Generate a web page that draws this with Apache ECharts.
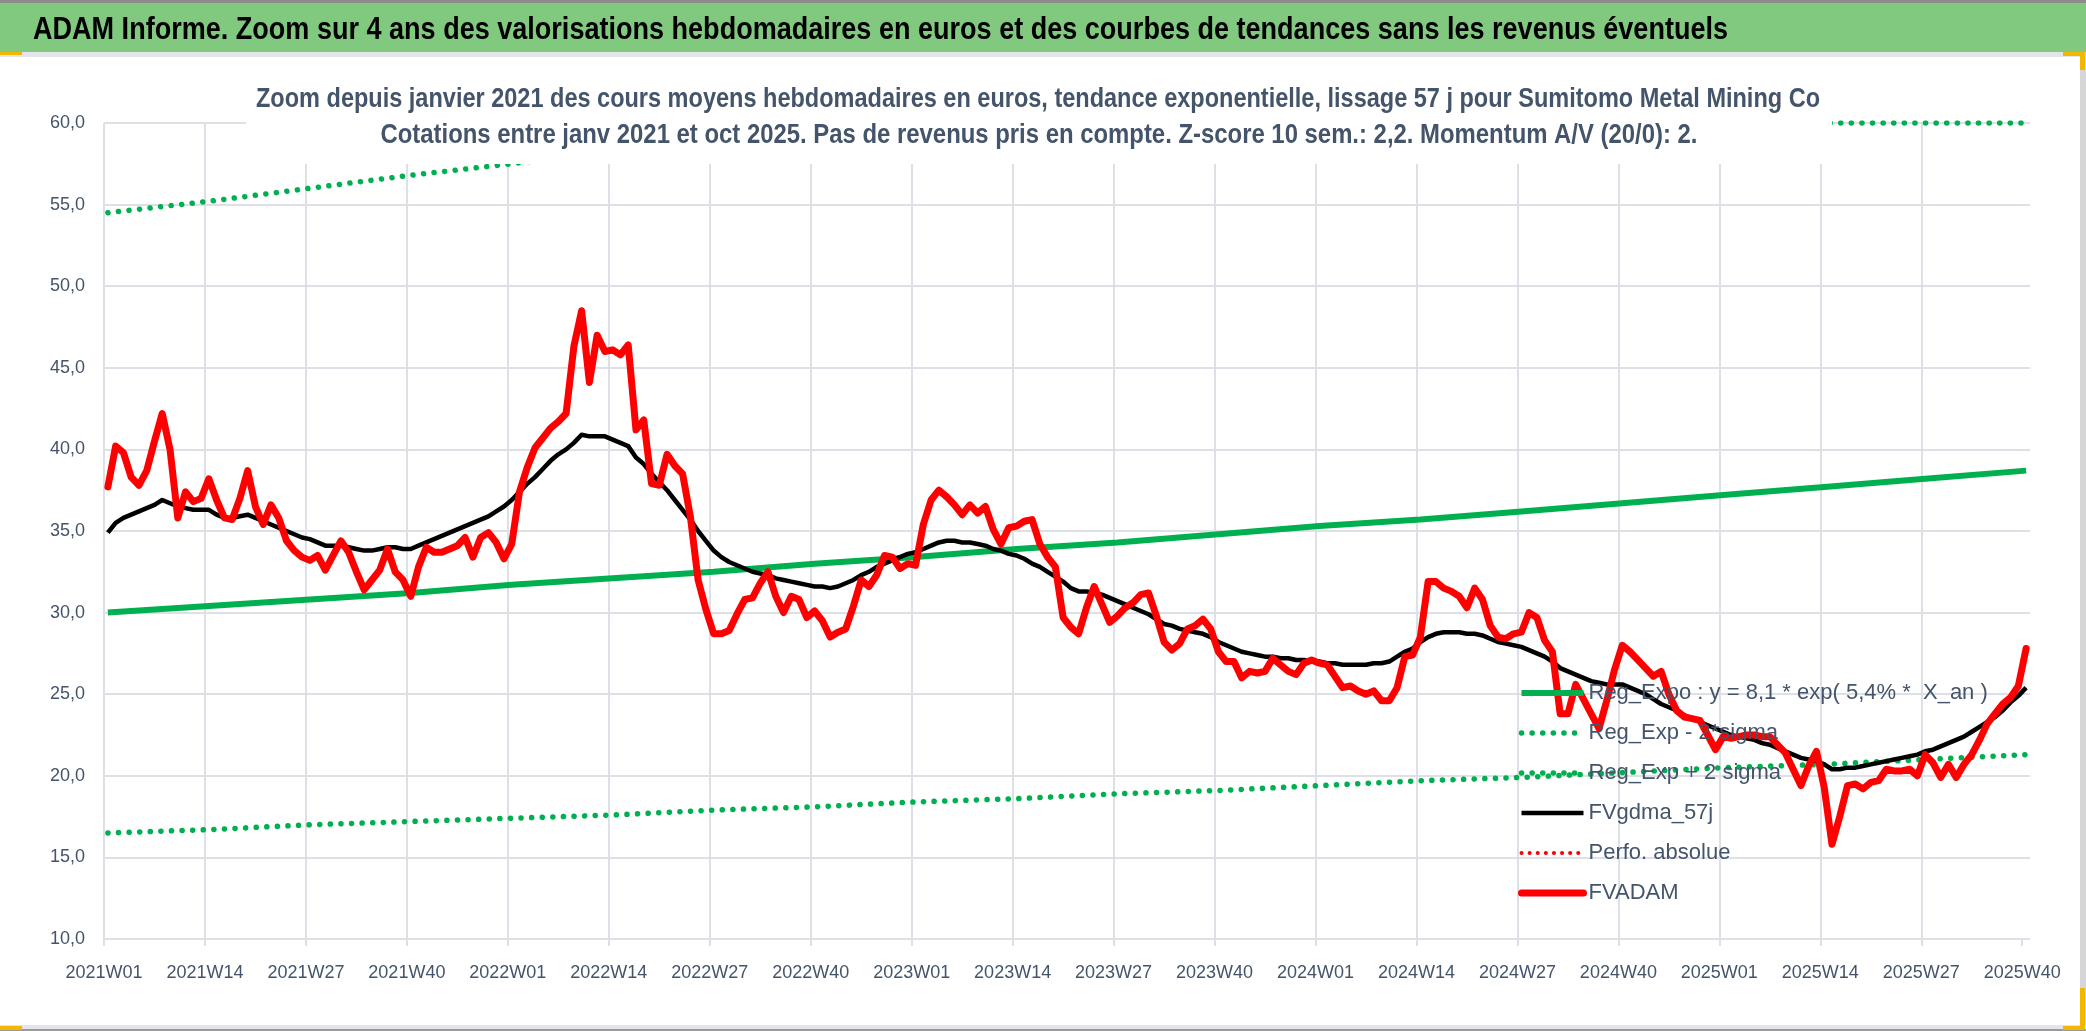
<!DOCTYPE html>
<html>
<head>
    <meta charset="UTF-8" />
    <title>ADAM Informe - Sumitomo Metal Mining Co</title>
    <script type="text/javascript" src="https://cdn.jsdelivr.net/npm/echarts@6/dist/echarts.min.js"></script>
    <style>
        html, body { margin: 0; padding: 0; background: #fff; }
    </style>
</head>
<body>

<div id="main" style="width: 2086px;height: 1031px;"></div>

<script>
    // libelles de l'axe des semaines (un tous les 13 points)
    var tickLabels = ['2021W01', '2021W14', '2021W27', '2021W40', '2022W01', '2022W14', '2022W27', '2022W40',
        '2023W01', '2023W14', '2023W27', '2023W40', '2024W01', '2024W14', '2024W27', '2024W40',
        '2025W01', '2025W14', '2025W27', '2025W40'];
    var tickWeeks = [0, 13, 26, 39, 52, 65, 78, 91, 104, 117, 130, 143, 156, 169, 182, 195, 208, 221, 234, 247];

    // cours moyens hebdomadaires (FVADAM), semaine 0 = 2021W01
    var fvadam = [
        37.7, 40.2, 39.8, 38.3, 37.8, 38.7, 40.5, 42.2, 40.0, 35.8,
        37.4, 36.8, 37.0, 38.2, 36.9, 35.8, 35.7, 37.0, 38.7, 36.5,
        35.4, 36.6, 35.8, 34.4, 33.8, 33.4, 33.2, 33.5, 32.6, 33.5,
        34.4, 33.7, 32.5, 31.4, 32.0, 32.6, 33.9, 32.5, 32.0, 31.0,
        32.8, 34.0, 33.7, 33.7, 33.9, 34.1, 34.6, 33.4, 34.6, 34.9,
        34.3, 33.3, 34.2, 37.4, 38.9, 40.1, 40.7, 41.3, 41.7, 42.2,
        46.3, 48.5, 44.1, 47.0, 46.0, 46.1, 45.8, 46.4, 41.2, 41.8,
        37.9, 37.8, 39.7, 39.0, 38.5, 35.9, 32.0, 30.2, 28.7, 28.7,
        28.9, 29.9, 30.8, 30.9, 31.8, 32.5, 31.0, 30.0, 31.0, 30.8,
        29.7, 30.1, 29.5, 28.5, 28.8, 29.0, 30.4, 32.0, 31.6, 32.3,
        33.5, 33.4, 32.7, 33.0, 32.9, 35.4, 36.9, 37.5, 37.1, 36.6,
        36.0, 36.6, 36.1, 36.5, 35.1, 34.2, 35.2, 35.3, 35.6, 35.7,
        34.2, 33.4, 32.8, 29.7, 29.1, 28.7, 30.3, 31.6, 30.5, 29.4,
        29.8, 30.3, 30.6, 31.1, 31.2, 29.8, 28.2, 27.7, 28.1, 29.0,
        29.2, 29.6, 29.0, 27.6, 27.0, 27.0, 26.0, 26.4, 26.3, 26.4,
        27.2, 26.8, 26.4, 26.2, 26.9, 27.1, 26.9, 26.8, 26.1, 25.4,
        25.5, 25.2, 25.0, 25.2, 24.6, 24.6, 25.4, 27.3, 27.4, 28.5,
        31.9, 31.9, 31.5, 31.3, 31.0, 30.3, 31.5, 30.8, 29.2, 28.5,
        28.4, 28.7, 28.8, 30.0, 29.7, 28.3, 27.6, 23.8, 23.8, 25.6,
        24.7, 23.8, 22.9, 24.6, 26.5, 28.0, 27.6, 27.1, 26.6, 26.1,
        26.4, 25.0, 24.0, 23.6, 23.5, 23.4, 22.5, 21.6, 22.4, 22.3,
        22.4, 22.5, 22.5, 22.4, 22.4, 21.9, 21.4, 20.4, 19.4, 20.6,
        21.5, 19.3, 15.8, 17.5, 19.4, 19.5, 19.2, 19.6, 19.7, 20.4,
        20.3, 20.3, 20.4, 20.0, 21.3, 20.8, 19.9, 20.7, 19.9, 20.7,
        21.3, 22.2, 23.2, 23.8, 24.4, 24.8, 25.5, 27.8
    ];

    // moyenne lissee 57 j (FVgdma_57j)
    var fvgdma57j = [
        34.9, 35.5, 35.8, 36.0, 36.2, 36.4, 36.6, 36.9, 36.7, 36.5,
        36.4, 36.3, 36.3, 36.3, 36.0, 35.8, 35.8, 35.9, 36.0, 35.8,
        35.6, 35.4, 35.2, 35.0, 34.8, 34.6, 34.5, 34.3, 34.1, 34.1,
        34.1, 34.0, 33.9, 33.8, 33.8, 33.9, 34.0, 34.0, 33.9, 33.9,
        34.1, 34.3, 34.5, 34.7, 34.9, 35.1, 35.3, 35.5, 35.7, 35.9,
        36.2, 36.5, 36.9, 37.4, 37.9, 38.3, 38.8, 39.3, 39.7, 40.0,
        40.4, 40.9, 40.8, 40.8, 40.8, 40.6, 40.4, 40.2, 39.5, 39.1,
        38.5, 38.0, 37.5, 36.9, 36.3, 35.7, 35.0, 34.4, 33.8, 33.4,
        33.1, 32.9, 32.7, 32.5, 32.4, 32.3, 32.1, 32.0, 31.9, 31.8,
        31.7, 31.6, 31.6, 31.5, 31.6, 31.8, 32.0, 32.3, 32.5, 32.8,
        33.0, 33.2, 33.4, 33.6, 33.7, 33.9, 34.1, 34.3, 34.4, 34.4,
        34.3, 34.3, 34.2, 34.1, 33.9, 33.8, 33.6, 33.5, 33.3, 33.0,
        32.8, 32.5, 32.2, 31.9, 31.5, 31.3, 31.3, 31.2, 31.1, 30.9,
        30.7, 30.5, 30.3, 30.1, 29.9, 29.6, 29.3, 29.2, 29.0, 28.9,
        28.8, 28.7, 28.5, 28.2, 28.0, 27.8, 27.6, 27.5, 27.4, 27.3,
        27.3, 27.2, 27.2, 27.1, 27.1, 27.0, 27.0, 26.9, 26.9, 26.8,
        26.8, 26.8, 26.8, 26.9, 26.9, 27.0, 27.3, 27.6, 27.8, 28.2,
        28.5, 28.7, 28.8, 28.8, 28.8, 28.7, 28.7, 28.6, 28.4, 28.2,
        28.1, 28.0, 27.9, 27.7, 27.5, 27.3, 27.0, 26.6, 26.4, 26.2,
        26.0, 25.8, 25.7, 25.6, 25.6, 25.6, 25.4, 25.2, 25.0, 24.7,
        24.4, 24.2, 24.0, 23.7, 23.5, 23.3, 23.1, 22.9, 22.7, 22.5,
        22.4, 22.3, 22.2, 22.0, 21.9, 21.7, 21.5, 21.3, 21.1, 21.0,
        20.9, 20.7, 20.4, 20.4, 20.5, 20.5, 20.6, 20.7, 20.8, 20.9,
        21.0, 21.1, 21.2, 21.3, 21.5, 21.6, 21.8, 22.0, 22.2, 22.4,
        22.7, 23.0, 23.3, 23.6, 24.0, 24.5, 24.9, 25.4
    ];

    // regression exponentielle et bandes, lues aux semaines de tickWeeks
    var regExpo = [30.0, 30.4, 30.8, 31.2, 31.7, 32.1, 32.5, 33.0, 33.4, 33.9,
        34.3, 34.8, 35.3, 35.7, 36.2, 36.7, 37.2, 37.7, 38.2, 38.7];
    var regMinus2Sigma = [16.5, 16.7, 17.0, 17.2, 17.4, 17.6, 17.9, 18.1, 18.4, 18.6,
        18.9, 19.1, 19.4, 19.7, 19.9, 20.2, 20.5, 20.7, 21.0, 21.3];
    // bande haute : sort du cadre (bloquee a 60 sur la droite)
    var regPlusWeeks = [0, 13, 26, 39, 52, 65, 78, 91, 93, 247];
    var regPlus2Sigma = [54.5, 55.2, 56.0, 56.8, 57.5, 58.3, 59.1, 59.9, 60.0, 60.0];

    var mainTitle = 'ADAM Informe. Zoom sur 4 ans des valorisations hebdomadaires en euros et des courbes de tendances sans les revenus éventuels';
    var subTitle1 = 'Zoom depuis janvier 2021 des cours moyens hebdomadaires en euros, tendance exponentielle, lissage 57 j pour Sumitomo Metal Mining Co';
    var subTitle2 = 'Cotations entre janv 2021 et oct 2025. Pas de revenus pris en compte. Z-score 10 sem.: 2,2. Momentum A/V (20/0): 2.';

    var FONT = '"Liberation Sans", Arial, sans-serif';
    var TXT = '#44546A';
    var GRID = '#DDE0E6';

    // police etroite (type Calibri) absente : on resserre les titres horizontalement
    var ctx = document.createElement('canvas').getContext('2d');
    function squeeze(text, font, width) {
        ctx.font = font;
        return width / ctx.measureText(text).width;
    }
    var F_MAIN = 'bold 31px ' + FONT;
    var F_SUB = 'bold 28px ' + FONT;

    function pts(weeks, vals) {
        return vals.map(function (v, i) { return [weeks[i] + 0.5, v]; });
    }
    var weekIdx = fvadam.map(function (v, i) { return i; });

    var obj = document.getElementById("main");
    var mychart = echarts.init(obj);

    var option = {
        animation: false,
        backgroundColor: '#fff',
        legend: {
            orient: 'vertical',
            left: 1518,
            top: 680,
            padding: 0,
            itemWidth: 62,
            itemHeight: 20,
            itemGap: 14,
            itemStyle: { opacity: 0 },
            lineStyle: { width: 'inherit' },
            textStyle: { fontFamily: FONT, fontSize: 22, color: TXT, lineHeight: 26 }
        },
        grid: { left: 104, right: 56, top: 123, bottom: 92, containLabel: false },
        xAxis: {
            type: 'value',
            min: 0,
            max: 248,
            interval: 13,
            axisLine: { show: false },
            axisTick: { show: true, length: 7, customValues: tickWeeks, lineStyle: { color: GRID, width: 2 } },
            axisLabel: {
                customValues: tickWeeks,
                showMinLabel: true,
                showMaxLabel: true,
                margin: 25,
                fontFamily: FONT, fontSize: 18, color: TXT,
                formatter: function (v) {
                    return v % 13 === 0 ? tickLabels[v / 13] : '';
                }
            },
            splitLine: { show: true, showMaxLine: false, lineStyle: { color: GRID, width: 2 } }
        },
        yAxis: {
            type: 'value',
            min: 10,
            max: 60,
            interval: 5,
            axisLine: { show: false },
            axisTick: { show: false },
            axisLabel: {
                margin: 19,
                fontFamily: FONT, fontSize: 18, color: TXT,
                formatter: function (v) { return v.toFixed(1).replace('.', ','); }
            },
            splitLine: { lineStyle: { color: GRID, width: 2 } }
        },
        series: [
            {
                name: 'Reg_Expo : y = 8,1 * exp( 5,4% *  X_an )',
                type: 'line', symbol: 'none',
                data: pts(tickWeeks, regExpo),
                lineStyle: { color: '#00B050', width: 6 },
                itemStyle: { color: '#00B050' }
            },
            {
                name: 'Reg_Exp - 2*sigma',
                type: 'line', symbol: 'none',
                data: pts(tickWeeks, regMinus2Sigma),
                lineStyle: { color: '#00B050', width: 5.5, type: [0.1, 10.5], cap: 'round' },
                itemStyle: { color: '#00B050' }
            },
            {
                name: 'Reg_Exp + 2 sigma',
                type: 'line', symbol: 'none',
                data: pts(regPlusWeeks, regPlus2Sigma),
                lineStyle: { color: '#00B050', width: 5.5, type: [0.1, 10.5], cap: 'round' },
                itemStyle: { color: '#00B050' }
            },
            {
                name: 'FVgdma_57j',
                type: 'line', symbol: 'none',
                data: pts(weekIdx, fvgdma57j),
                lineStyle: { color: '#000000', width: 4.5, join: 'round' },
                itemStyle: { color: '#000000' }
            },
            {
                name: 'Perfo. absolue',
                type: 'line', symbol: 'none',
                data: [],
                lineStyle: { color: '#FF0000', width: 4, type: [0.1, 8], cap: 'round' },
                itemStyle: { color: '#FF0000' }
            },
            {
                name: 'FVADAM',
                type: 'line', symbol: 'none',
                data: pts(weekIdx, fvadam),
                lineStyle: { color: '#FF0000', width: 7, join: 'round', cap: 'round' },
                itemStyle: { color: '#FF0000' }
            }
        ],
        graphic: [
            { type: 'rect', z: 100, shape: { x: 0, y: 0, width: 2086, height: 3 }, style: { fill: '#8C8C8C' }, silent: true },
            { type: 'rect', z: 100, shape: { x: 0, y: 3, width: 2086, height: 49 }, style: { fill: '#80C97F' }, silent: true },
            { type: 'rect', z: 100, shape: { x: 0, y: 52, width: 2080, height: 5 }, style: { fill: '#E3E5EA' }, silent: true },
            { type: 'rect', z: 100, shape: { x: 2080, y: 52, width: 6, height: 979 }, style: { fill: '#D6D6D6' }, silent: true },
            { type: 'rect', z: 100, shape: { x: 0, y: 1025, width: 2086, height: 6 }, style: { fill: '#E3E5EA' }, silent: true },
            { type: 'rect', z: 100, shape: { x: 0, y: 1029, width: 2086, height: 2 }, style: { fill: '#9A9A9A' }, silent: true },
            { type: 'rect', z: 101, shape: { x: 0, y: 52, width: 22, height: 3 }, style: { fill: '#F2B700' }, silent: true },
            { type: 'rect', z: 101, shape: { x: 2063, y: 52, width: 21, height: 4 }, style: { fill: '#F2B700' }, silent: true },
            { type: 'rect', z: 101, shape: { x: 2080, y: 52, width: 5, height: 18 }, style: { fill: '#F2B700' }, silent: true },
            { type: 'rect', z: 101, shape: { x: 2063, y: 1026, width: 22, height: 4 }, style: { fill: '#F2B700' }, silent: true },
            { type: 'rect', z: 101, shape: { x: 2080, y: 988, width: 5, height: 42 }, style: { fill: '#F2B700' }, silent: true },
            { type: 'rect', z: 101, shape: { x: 0, y: 1026, width: 22, height: 4 }, style: { fill: '#F2B700' }, silent: true },
            {
                type: 'text', z: 102, x: 33, y: 30, silent: true,
                scaleX: squeeze(mainTitle, F_MAIN, 1695),
                style: { text: mainTitle, font: F_MAIN, fill: '#000000', textAlign: 'left', textVerticalAlign: 'middle' }
            },
            // cadre blanc du titre du graphique (masque grille et bande haute)
            { type: 'rect', z: 100, shape: { x: 246, y: 72, width: 1586, height: 92 }, style: { fill: '#ffffff' }, silent: true },
            {
                type: 'text', z: 102, x: 1038, y: 99, silent: true,
                scaleX: squeeze(subTitle1, F_SUB, 1564),
                style: { text: subTitle1, font: F_SUB, fill: TXT, textAlign: 'center', textVerticalAlign: 'middle' }
            },
            {
                type: 'text', z: 102, x: 1039, y: 135, silent: true,
                scaleX: squeeze(subTitle2, F_SUB, 1317),
                style: { text: subTitle2, font: F_SUB, fill: TXT, textAlign: 'center', textVerticalAlign: 'middle' }
            }
        ]
    };

    mychart.setOption(option);
</script>

</body>
</html>
